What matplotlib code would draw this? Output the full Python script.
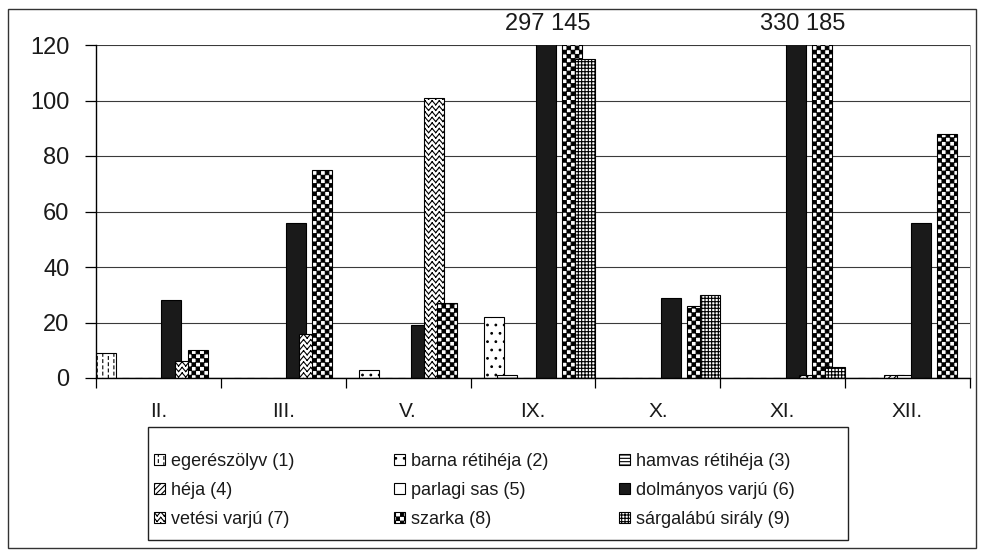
import warnings
warnings.filterwarnings('ignore')
import numpy as np
import matplotlib as mpl
mpl.use('Agg')
import matplotlib.pyplot as plt
import matplotlib.hatch as mhatch
from matplotlib.path import Path
from matplotlib.patches import Rectangle

# ---------------- data ----------------
categories = ['II.', 'III.', 'V.', 'IX.', 'X.', 'XI.', 'XII.']
series_names = ['egerészölyv (1)', 'barna rétihéja (2)', 'hamvas rétihéja (3)',
                'héja (4)', 'parlagi sas (5)', 'dolmányos varjú (6)',
                'vetési varjú (7)', 'szarka (8)', 'sárgalábú sirály (9)']
egereszolyv = [9, 0, 0, 0, 0, 0, 0]
barna_retiheja = [0, 0, 3, 22, 0, 0, 0]
hamvas_retiheja = [0, 0, 0, 1, 0, 0, 0]
heja = [0, 0, 0, 0, 0, 0, 1]
parlagi_sas = [0, 0, 0, 0, 0, 0, 1]
dolmanyos_varju = [28, 56, 19, 297, 29, 330, 56]
vetesi_varju = [6, 16, 101, 0, 0, 1, 0]
szarka = [10, 75, 27, 145, 26, 185, 88]
sargalabu_siraly = [0, 0, 0, 115, 30, 4, 0]
y_ticks = [0, 20, 40, 60, 80, 100, 120]

series_values = [egereszolyv, barna_retiheja, hamvas_retiheja, heja, parlagi_sas,
                 dolmanyos_varju, vetesi_varju, szarka, sargalabu_siraly]

# ---------------- custom hatch patterns ----------------
mpl.rcParams['hatch.linewidth'] = 0.8


class VerticalDashHatch(mhatch.HatchPatternBase):
    def __init__(self, hatch, density):
        self.ncols = hatch.count('d') * density
        self.ndash = 16
        self.num_vertices = self.ncols * self.ndash * 2 if self.ncols else 0

    def set_vertices_and_codes(self, vertices, codes):
        i = 0
        for c in range(self.ncols):
            x = (c + 0.5) / self.ncols
            shift = 0.5 / self.ndash if c % 2 else 0.0
            for d in range(self.ndash):
                y0 = d / self.ndash + shift
                vertices[i] = (x, y0)
                vertices[i + 1] = (x, y0 + 0.45 / self.ndash)
                codes[i] = Path.MOVETO
                codes[i + 1] = Path.LINETO
                i += 2


class ZigZagHatch(mhatch.HatchPatternBase):
    def __init__(self, hatch, density):
        self.nrows = hatch.count('z') * density
        self.npeaks = 14
        self.num_vertices = self.nrows * self.npeaks * 4 if self.nrows else 0

    def set_vertices_and_codes(self, vertices, codes):
        n, m = self.nrows, self.npeaks
        amp = 0.38 / n
        i = 0
        for r in range(n):
            yc = (r + 0.5) / n
            for j in range(2 * m):
                x0 = j / (2 * m)
                x1 = (j + 1) / (2 * m)
                ya = yc - amp if j % 2 == 0 else yc + amp
                yb = yc + amp if j % 2 == 0 else yc - amp
                vertices[i] = (x0, ya)
                vertices[i + 1] = (x1, yb)
                codes[i] = Path.MOVETO
                codes[i + 1] = Path.LINETO
                i += 2


class CheckerHatch(mhatch.HatchPatternBase):
    def __init__(self, hatch, density):
        k = hatch.count('c') * density
        if k % 2:
            k += 1
        self.k = k
        self.num_vertices = (k * k // 2) * 5 if k else 0

    def set_vertices_and_codes(self, vertices, codes):
        k = self.k
        cell = 1.0 / k
        inset = min(cell * 0.3, mpl.rcParams['hatch.linewidth'] / 72 / 2) * 0.6
        i = 0
        for r in range(k):
            for c in range(k):
                if (r + c) % 2:
                    continue
                x0, x1 = c * cell + inset, (c + 1) * cell - inset
                y0, y1 = r * cell + inset, (r + 1) * cell - inset
                vertices[i:i + 5] = [(x0, y0), (x1, y0), (x1, y1), (x0, y1), (x0, y0)]
                codes[i:i + 5] = [Path.MOVETO, Path.LINETO, Path.LINETO,
                                  Path.LINETO, Path.CLOSEPOLY]
                i += 5


mhatch._hatch_types.extend([VerticalDashHatch, ZigZagHatch, CheckerHatch])

# ---------------- styles ----------------
hatches = ['ddd', '..', '-----', '//////', '', '', 'zzz', 'cccc', '+++++']
facecolors = ['white', 'white', 'white', 'white', 'white', '#1a1a1a',
              'white', 'white', 'white']

plt.rcParams['font.family'] = ['Liberation Sans', 'DejaVu Sans']
text_color = '#1a1a1a'

W, H = 981, 552
fig = plt.figure(figsize=(W / 100, H / 100), dpi=100)
ax = fig.add_axes([96 / W, 1 - 378 / H, (970 - 96) / W, (378 - 45) / H])

x = np.arange(len(categories))
step = 0.1048
width = 0.16
handles = []
for k, (name, vals) in enumerate(zip(series_names, series_values)):
    pos = x - 0.5 + k * step + width / 2
    bc = ax.bar(pos, vals, width, color=facecolors[k], edgecolor='black',
                hatch=hatches[k] if hatches[k] else None, linewidth=0.8,
                label=name, zorder=2 + k * 0.01)
    handles.append(bc)

ymax = y_ticks[-1]
ax.set_ylim(0, ymax)
ax.set_xlim(-0.5, len(categories) - 0.5)
ax.set_yticks(y_ticks)
ax.set_xticks(x)
ax.set_xticklabels(categories)
ax.set_xticks(np.arange(len(categories) + 1) - 0.5, minor=True)
ax.tick_params(axis='x', which='major', length=0, pad=17, labelsize=15,
               labelcolor=text_color)
ax.tick_params(axis='x', which='minor', length=7, width=0.9, direction='out')
ax.tick_params(axis='y', which='major', length=8, width=0.9, pad=11, labelsize=17,
               labelcolor=text_color)
ax.yaxis.grid(True, color='#3a3a3a', linewidth=0.8)
ax.set_axisbelow(True)
ax.spines['top'].set_visible(False)
ax.spines['right'].set_color('#888888')
ax.spines['right'].set_linewidth(0.6)
ax.spines['left'].set_linewidth(1.0)
ax.spines['bottom'].set_linewidth(1.0)

# labels of values beyond the axis maximum
label_offsets = {3: 0.12, 5: 0.16}
for i in range(len(categories)):
    over = [str(v[i]) for v in series_values if v[i] > ymax]
    if over:
        ax.text(i + label_offsets.get(i, 0.12), 1.0 + 21 / 333, ' '.join(over),
                transform=ax.get_xaxis_transform(), ha='center', va='center',
                fontsize=17, color=text_color, clip_on=False)

# legend: three columns, row-wise order, each column placed separately
col_x = [154, 394, 619]
for c in range(3):
    idx = [c, c + 3, c + 6]
    leg = fig.legend([handles[i] for i in idx], [series_names[i] for i in idx],
                     ncol=1, loc='upper left', bbox_to_anchor=(col_x[c] / W, 1 - 453 / H),
                     frameon=False, fontsize=13, handlelength=0.6, handleheight=0.6,
                     handletextpad=0.35, labelspacing=0.66,
                     borderpad=0, borderaxespad=0)
    for t in leg.get_texts():
        t.set_color(text_color)

# legend box and outer chart border
fig.patches.append(Rectangle((148 / W, 1 - 540 / H), (848 - 148) / W, (540 - 427) / H,
                             transform=fig.transFigure, fill=False,
                             edgecolor='#222222', linewidth=1.0))
fig.patches.append(Rectangle((8 / W, 1 - 548 / H), (976 - 8) / W, (548 - 9) / H,
                             transform=fig.transFigure, fill=False,
                             edgecolor='#333333', linewidth=1.0))

fig.savefig('out.png', dpi=100)
